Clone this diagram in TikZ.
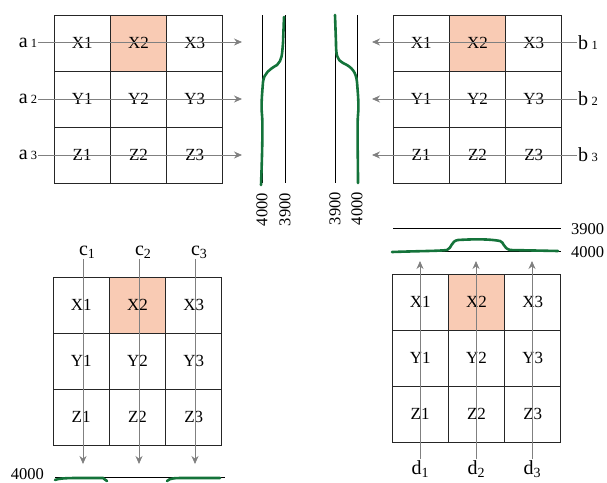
\documentclass[tikz,border=0pt]{standalone}
\usepackage{fontspec}
\setmainfont{Liberation Serif}
\usetikzlibrary{arrows.meta}

\definecolor{peach}{HTML}{F9CBB4}
\definecolor{trace}{HTML}{14733A}

\tikzset{
  cell/.style={draw=black!85, line width=0.9pt, minimum width=56.3pt, minimum height=56pt, inner sep=0pt, font=\fontsize{17}{17}\selectfont},
  scan/.style={draw=black!50, line width=0.8pt, -{Stealth[length=8pt,width=7pt]}},
  level/.style={draw=black, line width=0.8pt},
  curve/.style={draw=trace, line width=2.6pt, line cap=round},
  lab/.style={inner sep=1pt, font=\fontsize{20}{20}\selectfont},
  val/.style={inner sep=0pt, font=\fontsize{16.5}{16.5}\selectfont}
}

\newcommand{\cellgrid}[3]{%
  \foreach \r/\l in {0/X,1/Y,2/Z}{
    \foreach \c in {1,2,3}{
      \node[cell] (#1\l\c) at ({#2+(\c-0.5)*56.3},{#3+(\r+0.5)*56}) {\l\c};
    }
  }
  \node[cell, fill=peach] (#1X2) at ({#2+1.5*56.3},{#3+0.5*56}) {X2};
}
\newcommand{\sub}[1]{\,{\fontsize{12.5}{12.5}\selectfont #1}}
\newcommand{\low}[1]{{\fontsize{14}{14}\selectfont\raisebox{-3pt}{#1}}}

\begin{document}
\begin{tikzpicture}[x=1pt,y=-1pt]
\useasboundingbox (0,0) rectangle (607,482);

% Grids
\cellgrid{A}{54}{15}
\cellgrid{B}{393}{15}
\cellgrid{C}{53}{277}
\cellgrid{D}{392}{274}

% Labels
\node[lab] (la1) at (28,43) {a\sub{1}};
\node[lab] (la2) at (28,99) {a\sub{2}};
\node[lab] (la3) at (28,155) {a\sub{3}};
\node[lab] (lb1) at (588,43) {b\sub{1}};
\node[lab] (lb2) at (588,99) {b\sub{2}};
\node[lab] (lb3) at (588,155) {b\sub{3}};
\node[lab] (lc1) at (87,252) {c\low{1}};
\node[lab] (lc2) at (143,252) {c\low{2}};
\node[lab] (lc3) at (199,252) {c\low{3}};
\node[lab] (ld1) at (420,469) {d\low{1}};
\node[lab] (ld2) at (476,469) {d\low{2}};
\node[lab] (ld3) at (532,469) {d\low{3}};

% Arrows
\coordinate (a1e) at (242,42); \coordinate (a2e) at (242,99); \coordinate (a3e) at (242,155);
\coordinate (b1e) at (372,42); \coordinate (b2e) at (372,99); \coordinate (b3e) at (372,155);
\coordinate (c1e) at (83,464); \coordinate (c2e) at (139,464); \coordinate (c3e) at (195,464);
\coordinate (d1e) at (420,261); \coordinate (d2e) at (476,261); \coordinate (d3e) at (532,261);
\draw[scan] (la1.east |- a1e) -- (a1e);
\draw[scan] (la2.east |- a2e) -- (a2e);
\draw[scan] (la3.east |- a3e) -- (a3e);
\draw[scan] (lb1.west |- b1e) -- (b1e);
\draw[scan] (lb2.west |- b2e) -- (b2e);
\draw[scan] (lb3.west |- b3e) -- (b3e);
\draw[scan] (lc1.south -| c1e) -- (c1e);
\draw[scan] (lc2.south -| c2e) -- (c2e);
\draw[scan] (lc3.south -| c3e) -- (c3e);
\draw[scan] (ld1.north -| d1e) -- (d1e);
\draw[scan] (ld2.north -| d2e) -- (d2e);
\draw[scan] (ld3.north -| d3e) -- (d3e);

% Levels
\draw[level] (262,15) -- (262,183); \draw[level] (285,15) -- (285,183);
\draw[level] (335,15) -- (335,183); \draw[level] (357,15) -- (357,183);
\draw[level] (393,228) -- (561,228); \draw[level] (393,251) -- (561,251);
\draw[level] (55,477) -- (225,477);
\node[val, rotate=90, anchor=east] (va1) at (262,193) {4000};
\node[val, rotate=90, anchor=east] (va2) at (285,193) {3900};
\node[val, rotate=90, anchor=east] (vb1) at (335,192) {3900};
\node[val, rotate=90, anchor=east] (vb2) at (357,192) {4000};
\node[val, anchor=west] (vd1) at (571,229) {3900};
\node[val, anchor=west] (vd2) at (571,252) {4000};
\node[val, anchor=east] (vc1) at (44,474) {4000};

% Traces
\draw[curve] (284,17) -- (283,43) .. controls (282,55) and (282,60) .. (277,65)
  .. controls (270,69) and (264,73) .. (263,82) .. controls (262,95) and (261,105) .. (262,115)
  .. controls (263,125) and (262,160) .. (261,185);
\draw[curve] (335,15) -- (336,43) .. controls (336,55) and (337,60) .. (343,63)
  .. controls (352,67) and (356,72) .. (357,82) .. controls (358,95) and (359,105) .. (358,115)
  .. controls (357,125) and (358,160) .. (358,183);
\draw[curve] (392,252) .. controls (420,251) and (440,251) .. (447,250)
  .. controls (452,248) and (451,241) .. (458,240) .. controls (475,239) and (490,239) .. (500,241)
  .. controls (504,242) and (503,248) .. (510,250) -- (558,251);
\draw[curve] (55,480) .. controls (60,478) and (70,478) .. (80,478) -- (103,478) -- (107,481);
\draw[curve] (167,481) .. controls (170,478) and (175,478) .. (185,478) -- (220,478);
\end{tikzpicture}
\end{document}
